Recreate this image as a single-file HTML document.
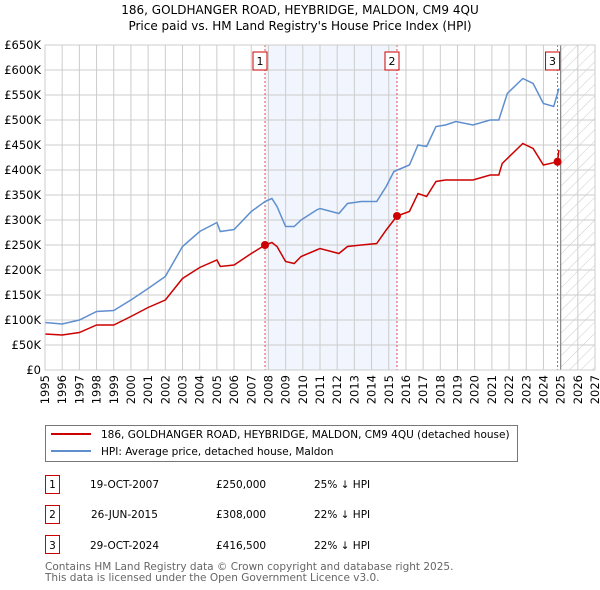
<!DOCTYPE html>
<html><head><meta charset="utf-8"><style>
body{margin:0;background:#fff;font-family:"DejaVu Sans","Liberation Sans",sans-serif;}
svg{display:block}
</style></head><body>
<svg width="600" height="590" viewBox="0 0 600 590">
<defs><pattern id="hatch" width="8" height="8" patternUnits="userSpaceOnUse" patternTransform="rotate(45)"><line x1="0" y1="0" x2="0" y2="8" stroke="#ccc" stroke-width="1"/></pattern></defs>
<text x="300" y="14" text-anchor="middle" font-size="12">186, GOLDHANGER ROAD, HEYBRIDGE, MALDON, CM9 4QU</text>
<text x="300" y="30" text-anchor="middle" font-size="12">Price paid vs. HM Land Registry's House Price Index (HPI)</text>
<g id="plot"></g>
<g>
<rect x="45.5" y="425.5" width="472" height="36" fill="#fff" stroke="#777"/>
<line x1="51" y1="434" x2="91" y2="434" stroke="#cc0000" stroke-width="2"/>
<text x="101" y="438" font-size="10.5">186, GOLDHANGER ROAD, HEYBRIDGE, MALDON, CM9 4QU (detached house)</text>
<line x1="51" y1="451" x2="91" y2="451" stroke="#5f8fcf" stroke-width="2"/>
<text x="101" y="455" font-size="10.5">HPI: Average price, detached house, Maldon</text>
</g>
<g font-size="10.5">
<rect x="45.5" y="475.5" width="14" height="18" fill="#fff" stroke="#cc0000"/><text x="52.5" y="488" text-anchor="middle">1</text>
<text x="90" y="488">19-OCT-2007</text><text x="216" y="488">£250,000</text><text x="314" y="488">25% ↓ HPI</text>
<rect x="45.5" y="505.5" width="14" height="18" fill="#fff" stroke="#cc0000"/><text x="52.5" y="518" text-anchor="middle">2</text>
<text x="91" y="518">26-JUN-2015</text><text x="216" y="518">£308,000</text><text x="314" y="518">22% ↓ HPI</text>
<rect x="45.5" y="535.5" width="14" height="18" fill="#fff" stroke="#cc0000"/><text x="52.5" y="549" text-anchor="middle">3</text>
<text x="90" y="549">29-OCT-2024</text><text x="216" y="549">£416,500</text><text x="314" y="549">22% ↓ HPI</text>
</g>
<text x="45" y="570" font-size="10.5" fill="#666">Contains HM Land Registry data © Crown copyright and database right 2025.</text>
<text x="45" y="581" font-size="10.5" fill="#666">This data is licensed under the Open Government Licence v3.0.</text>
</svg>
<script>
const hpiYears=[1995,1996,1997,1998,1999,2000,2001,2002,2003,2004,2005,2005.2,2006,2007,2007.8,2008.2,2008.5,2009,2009.5,2009.9,2010.8,2011,2012.1,2012.6,2013.4,2014.3,2014.85,2015.3,2016.2,2016.7,2017.2,2017.75,2018.3,2018.9,2019.9,2020.9,2021.4,2021.9,2022.8,2023.4,2024,2024.6,2024.9];
const hpiValues=[95,92,100,117,119,140,163,187,247,277,295,277,281,317,337,343,327,287,287,300,320,323,313,333,337,337,367,397,410,450,447,487,490,497,490,500,500,553,583,573,533,527,563];
const ppYears=[1995,1996,1997,1998,1999,2000,2001,2002,2003,2004,2005,2005.2,2006,2007,2007.8,2008.2,2008.5,2009,2009.5,2009.9,2010.8,2011,2012.1,2012.6,2013.4,2014.3,2014.85,2015.48,2016.2,2016.7,2017.2,2017.75,2018.3,2019.9,2020.9,2021.4,2021.6,2021.9,2022.8,2023.4,2024,2024.82,2024.9];
const ppValues=[72,70,75,90,90,107,125,140,183,205,220,207,210,233,250,255,247,217,213,227,240,243,233,247,250,253,280,308,317,353,347,377,380,380,390,390,413,423,453,443,410,416.5,440];
const saleYears=[2007.8,2015.48,2024.82];
const saleValues=[250,308,416.5];
const saleLabels=["1","2","3"];
const yTicks=[0,50,100,150,200,250,300,350,400,450,500,550,600,650];
const xTicks=[1995,1996,1997,1998,1999,2000,2001,2002,2003,2004,2005,2006,2007,2008,2009,2010,2011,2012,2013,2014,2015,2016,2017,2018,2019,2020,2021,2022,2023,2024,2025,2026,2027];
const L=45,R=595,T=45,B=370;
const xS=y=>L+(y-1995)/(2027-1995)*(R-L);
const yS=v=>B-v/650*(B-T);
const NS="http://www.w3.org/2000/svg";
const g=document.getElementById('plot');
function mk(t,a,p){const e=document.createElementNS(NS,t);for(const k in a)e.setAttribute(k,a[k]);(p||g).appendChild(e);return e;}
let r=mk('rect',{x:xS(saleYears[0]),y:T,width:xS(saleYears[1])-xS(saleYears[0]),height:B-T,fill:'#eef3fc',opacity:0.8});


r=mk('rect',{x:xS(2025),y:T,width:R-xS(2025),height:B-T,fill:'url(#hatch)'});


yTicks.forEach(v=>{mk('line',{x1:L,x2:R,y1:yS(v),y2:yS(v),stroke:'#ccc'});
 const t=mk('text',{x:L-4,y:yS(v)+4,'text-anchor':'end','font-size':11.5});t.textContent=v===0?'£0':'£'+v+'K';
 
 });
xTicks.forEach(y=>{mk('line',{x1:xS(y),x2:xS(y),y1:T,y2:B,stroke:'#ccc'});
 const t=mk('text',{x:0,y:0,'text-anchor':'end','font-size':11.5,transform:`translate(${xS(y)+4},${B+5}) rotate(-90)`});t.textContent=y;
 
 });
mk('line',{x1:xS(2025),x2:xS(2025),y1:T,y2:B,stroke:'#888','stroke-width':1.2});
saleYears.forEach((y,i)=>{mk('line',{x1:xS(y),x2:xS(y),y1:T,y2:B,stroke:'#e05050','stroke-dasharray':'2,2'});
 const b=mk('rect',{x:xS(y)-12,y:52,width:14,height:18,fill:'#fff',stroke:'#cc0000'});
 
 
 const t=mk('text',{x:xS(y)-5,y:65,'text-anchor':'middle','font-size':11});t.textContent=saleLabels[i];});
function line(xs,vs,c,name){const p=mk('path',{d:xs.map((x,i)=>(i?'L':'M')+xS(x).toFixed(1)+','+yS(vs[i]).toFixed(1)).join(''),fill:'none',stroke:c,'stroke-width':1.5});
 
 }
line(hpiYears,hpiValues,'#5f8fcf','hpi-line');
line(ppYears,ppValues,'#cc0000','price-paid-line');
saleYears.forEach((y,i)=>{const c=mk('circle',{cx:xS(y),cy:yS(saleValues[i]),r:4,fill:'#cc0000'});
 
 });
mk('rect',{x:L,y:T,width:R-L,height:B-T,fill:'none',stroke:'#ccc'});
</script>
</body></html>
